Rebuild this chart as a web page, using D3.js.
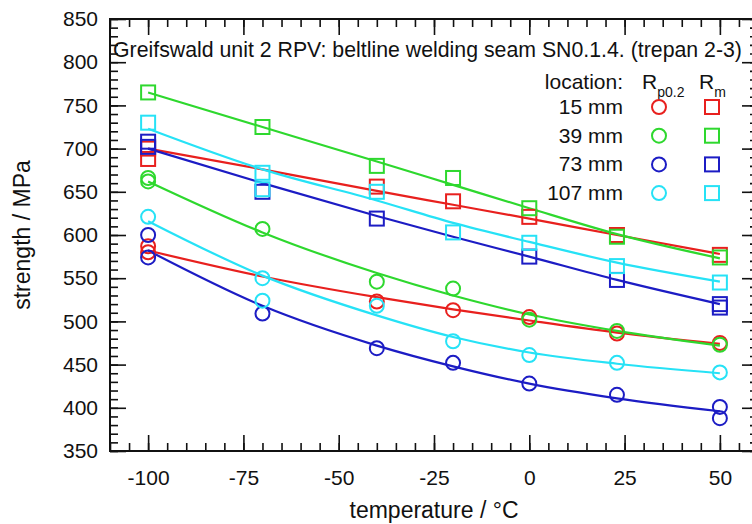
<!DOCTYPE html>
<html><head><meta charset="utf-8">
<script src="https://cdn.jsdelivr.net/npm/d3@7"></script>
<style>
html,body{margin:0;padding:0;background:#fff;}
svg text{font-family:"Liberation Sans",Arial,sans-serif;fill:#111;}
</style></head>
<body><svg id="c" width="752" height="524"></svg>
<script>
// ---- data ----
const locations = ["15 mm", "39 mm", "73 mm", "107 mm"];
const colors = ["#e8201e", "#2ed82e", "#1c1cc4", "#26e2f6"];
const fitTemps = [-100, -70, -40, -20, 0, 23, 50];
const xTicks = [-100, -75, -50, -25, 0, 25, 50];
const yTicks = [350, 400, 450, 500, 550, 600, 650, 700, 750, 800, 850];

// measured Rp0.2 points [temperature, MPa]
const rp15 = [[-100,587],[-100,580],[-40,523],[-20,513],[0,505],[23,486],[50,475]];
const rp39 = [[-100,666],[-100,662],[-70,607],[-40,546],[-20,538],[0,502],[23,489],[50,473]];
const rp73 = [[-100,600],[-100,574],[-70,509],[-40,469],[-20,452],[0,428],[23,415],[50,401],[50,388]];
const rp107 = [[-100,621],[-70,550],[-70,524],[-40,518],[-20,477],[0,461],[23,452],[50,441]];
// measured Rm points
const rm15 = [[-100,700],[-100,688],[-40,656],[-20,639],[0,621],[23,600],[50,577]];
const rm39 = [[-100,765],[-70,725],[-40,680],[-20,666],[0,631],[23,598],[50,574]];
const rm73 = [[-100,708],[-100,702],[-70,650],[-40,619],[0,575],[23,548],[50,520],[50,516]];
const rm107 = [[-100,730],[-70,672],[-70,653],[-40,650],[-20,603],[0,591],[23,564],[50,545]];

// fit curves, values read at fitTemps
const fitRp15 = [582, 552, 528, 514, 501, 487, 474];
const fitRp39 = [662, 603, 556, 530, 508, 489, 472];
const fitRp73 = [582, 518, 472, 448, 428, 411, 396];
const fitRp107 = [616, 553, 507, 482, 464, 451, 440];
const fitRm15 = [700, 676, 651, 635, 619, 600, 578];
const fitRm39 = [765, 725, 685, 658, 631, 601, 573];
const fitRm73 = [700, 660, 622, 598, 575, 548, 520];
const fitRm107 = [723, 676, 640, 614, 592, 568, 546];

const title = "Greifswald unit 2 RPV: beltline welding seam SN0.1.4. (trepan 2-3)";

// ---- chart ----
const svg = d3.select("#c");
const L = 110, R = 758, T = 19, B = 451;
const x = d3.scaleLinear().domain([-110, 60]).range([L, R]);
const y = d3.scaleLinear().domain([350, 850]).range([B, T]);

const rpSets = [rp15, rp39, rp73, rp107];
const rmSets = [rm15, rm39, rm73, rm107];
const rpFits = [fitRp15, fitRp39, fitRp73, fitRp107];
const rmFits = [fitRm15, fitRm39, fitRm73, fitRm107];

const line = d3.line().x(d => x(d[0])).y(d => y(d[1])).curve(d3.curveMonotoneX);

const gData = svg.append("g");
for (let i = 0; i < 4; i++) {
  [rpFits[i], rmFits[i]].forEach(f => {
    gData.append("path").attr("d", line(fitTemps.map((t, k) => [t, f[k]])))
      .attr("fill", "none").attr("stroke", colors[i]).attr("stroke-width", 2.2);
  });
}
const rC = 7, sq = 14;
for (let i = 0; i < 4; i++) {
  gData.selectAll(null).data(rpSets[i]).enter().append("circle")
    .attr("cx", d => x(d[0])).attr("cy", d => y(d[1])).attr("r", rC)
    .attr("fill", "none").attr("stroke", colors[i]).attr("stroke-width", 2);
  gData.selectAll(null).data(rmSets[i]).enter().append("rect")
    .attr("x", d => x(d[0]) - sq / 2).attr("y", d => y(d[1]) - sq / 2)
    .attr("width", sq).attr("height", sq)
    .attr("fill", "none").attr("stroke", colors[i]).attr("stroke-width", 2);
}

// axes with inward ticks
const fs = 21;
const fmt = d => String(d);
function styleAxis(g) {
  g.select(".domain").remove();
  g.selectAll("line").attr("stroke", "#111").attr("stroke-width", 1.6);
  g.selectAll("text").style("font-size", fs + "px").style("font-family", '"Liberation Sans",Arial,sans-serif').attr("fill", "#111");
}
const xMinor = d3.range(-110, 60.01, 5);
const yMinor = d3.range(350, 850.01, 10);

const gx = svg.append("g").attr("transform", `translate(0,${B})`)
  .call(d3.axisBottom(x).tickValues(xMinor).tickSize(-8).tickFormat(""));
styleAxis(gx);
const gx2 = svg.append("g").attr("transform", `translate(0,${B})`)
  .call(d3.axisBottom(x).tickValues(xTicks).tickSize(-16).tickPadding(19).tickFormat(fmt));
styleAxis(gx2);
const gxt = svg.append("g").attr("transform", `translate(0,${T})`)
  .call(d3.axisTop(x).tickValues(xMinor).tickSize(-8).tickFormat(""));
styleAxis(gxt);
const gxt2 = svg.append("g").attr("transform", `translate(0,${T})`)
  .call(d3.axisTop(x).tickValues(xTicks).tickSize(-16).tickFormat(""));
styleAxis(gxt2);

const gy = svg.append("g").attr("transform", `translate(${L},0)`)
  .call(d3.axisLeft(y).tickValues(yMinor).tickSize(-8).tickFormat(""));
styleAxis(gy);
const gy2 = svg.append("g").attr("transform", `translate(${L},0)`)
  .call(d3.axisLeft(y).tickValues(yTicks).tickSize(-16).tickPadding(12).tickFormat(fmt));
styleAxis(gy2);
const gyr = svg.append("g").attr("transform", `translate(${R},0)`)
  .call(d3.axisRight(y).tickValues(yMinor).tickSize(-8).tickFormat(""));
styleAxis(gyr);
const gyr2 = svg.append("g").attr("transform", `translate(${R},0)`)
  .call(d3.axisRight(y).tickValues(yTicks).tickSize(-16).tickFormat(""));
styleAxis(gyr2);

svg.append("rect").attr("x", L).attr("y", T).attr("width", R - L).attr("height", B - T)
  .attr("fill", "none").attr("stroke", "#111").attr("stroke-width", 2);

// axis titles
svg.append("text").attr("x", (L + R) / 2).attr("y", 518).attr("text-anchor", "middle")
  .style("font-size", "23px").text("temperature / °C");
svg.append("text").attr("transform", `translate(30,${(T + B) / 2}) rotate(-90)`).attr("text-anchor", "middle")
  .style("font-size", "23px").text("strength / MPa");

// title
svg.append("text").attr("x", 113).attr("y", 57).style("font-size", "21.3px").text(title);

// legend
const lg = svg.append("g");
const ly0 = 89;
lg.append("text").attr("x", 623).attr("y", ly0).attr("text-anchor", "end").style("font-size", "21px").text("location:");
const r1 = lg.append("text").attr("x", 642).attr("y", ly0).style("font-size", "21px");
r1.append("tspan").text("R");
r1.append("tspan").attr("dy", 8).style("font-size", "14px").text("p0.2");
const r2 = lg.append("text").attr("x", 699).attr("y", ly0).style("font-size", "21px");
r2.append("tspan").text("R");
r2.append("tspan").attr("dy", 8).style("font-size", "14px").text("m");
locations.forEach((loc, i) => {
  const cy = 107 + i * 28.7;
  lg.append("text").attr("x", 623).attr("y", cy + 7).attr("text-anchor", "end").style("font-size", "21px").text(loc);
  lg.append("circle").attr("cx", 659).attr("cy", cy).attr("r", rC).attr("fill", "none").attr("stroke", colors[i]).attr("stroke-width", 2);
  lg.append("rect").attr("x", 712 - sq / 2).attr("y", cy - sq / 2).attr("width", sq).attr("height", sq).attr("fill", "none").attr("stroke", colors[i]).attr("stroke-width", 2);
});
</script></body></html>
